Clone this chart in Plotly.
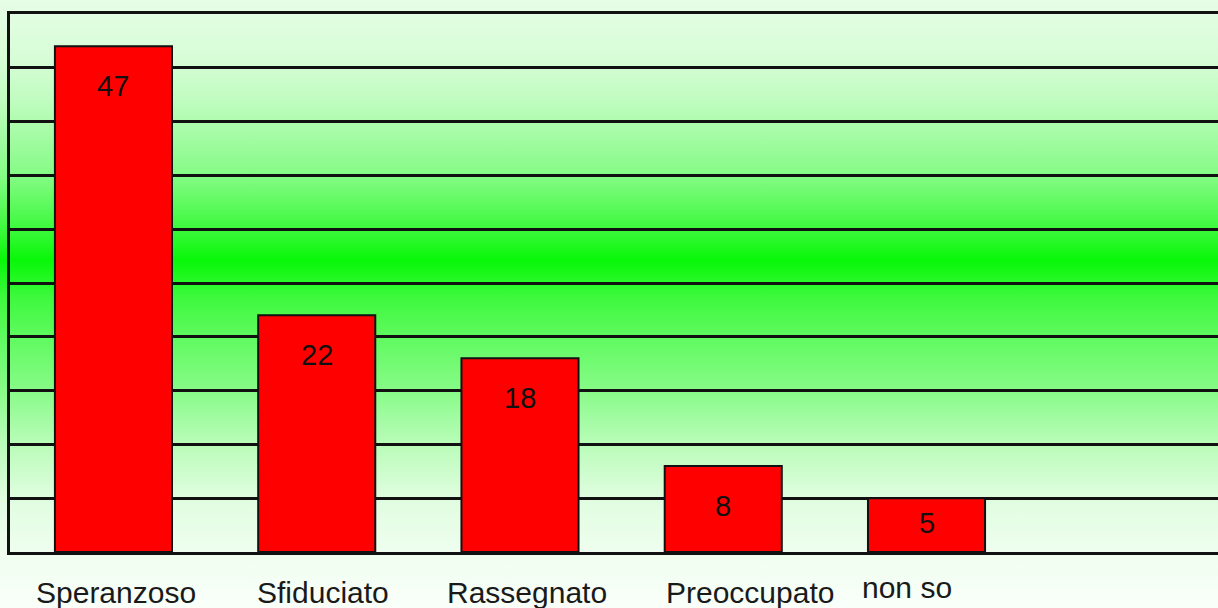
import base64
import plotly.graph_objects as go

# Survey answers and counts
categories = ["Speranzoso", "Sfiduciato", "Rassegnato", "Preoccupato", "non so"]
values = [47, 22, 18, 8, 5]

W, H = 1218, 608
M_L, M_R, M_T, M_B = 10, 0, 14, 56
Y_MAX = 50

# Vertical green gradient used as the page background
stops = [
    (0.000, "#e6fde6"),
    (0.100, "#d6fdd6"),
    (0.165, "#c0fcc0"),
    (0.290, "#84fb84"),
    (0.375, "#3ef93e"),
    (0.428, "#08f708"),
    (0.490, "#3ef93e"),
    (0.560, "#62fa62"),
    (0.640, "#86fb86"),
    (0.720, "#b4fcb4"),
    (0.820, "#e0fde0"),
    (0.910, "#effeef"),
    (1.000, "#fafffa"),
]
stop_tags = "".join(f'<stop offset="{o}" stop-color="{c}"/>' for o, c in stops)
svg = (
    '<svg xmlns="http://www.w3.org/2000/svg" width="10" height="608" '
    'preserveAspectRatio="none" viewBox="0 0 10 608">'
    '<defs><linearGradient id="g" x1="0" y1="0" x2="0" y2="1">'
    f"{stop_tags}</linearGradient></defs>"
    '<rect x="0" y="0" width="10" height="608" fill="url(#g)"/></svg>'
)
bg_src = "data:image/svg+xml;base64," + base64.b64encode(svg.encode()).decode()

plot_w = W - M_L - M_R
plot_h = H - M_T - M_B

fig = go.Figure(
    go.Bar(
        x=categories,
        y=values,
        width=0.576,
        marker=dict(color="#ff0000", line=dict(color="#111111", width=2)),
        hoverinfo="x+y",
    )
)

FONT = "Liberation Sans, Arial, sans-serif"

# Value labels inside the bars, near the top
px_per_unit = plot_h / Y_MAX
for cat, v in zip(categories, values):
    offset = min(40, v * px_per_unit * 0.46)
    fig.add_annotation(
        x=cat, y=v, xref="x", yref="y",
        text=str(v), showarrow=False,
        yanchor="middle", yshift=-offset,
        font=dict(family=FONT, size=29, color="#111111"),
    )

# Category labels below the axis
label_xshift = [3, 6, 7, 27, -20]
label_yshift = [-40, -40, -40, -40, -35]
for cat, dx, dy in zip(categories, label_xshift, label_yshift):
    fig.add_annotation(
        x=cat, y=0, xref="x", yref="y",
        text=cat, showarrow=False,
        yanchor="middle", xshift=dx, yshift=dy,
        font=dict(family=FONT, size=30, color="#1a1a1a"),
    )

fig.add_layout_image(
    source=bg_src,
    xref="paper", yref="paper",
    x=-M_L / plot_w, y=1 + M_T / plot_h,
    sizex=W / plot_w, sizey=H / plot_h,
    xanchor="left", yanchor="top",
    sizing="stretch", layer="below",
)

fig.update_layout(
    width=W, height=H,
    margin=dict(l=M_L, r=M_R, t=M_T, b=M_B),
    paper_bgcolor="#ffffff",
    plot_bgcolor="rgba(0,0,0,0)",
    showlegend=False,
    xaxis=dict(
        range=[-0.509, 5.434],
        showticklabels=False, ticks="",
        showgrid=False, zeroline=False,
        showline=True, mirror=True, linecolor="#111111", linewidth=2.5,
        fixedrange=True,
    ),
    yaxis=dict(
        range=[0, Y_MAX], dtick=5,
        showticklabels=False, ticks="",
        showgrid=True, gridcolor="#111111", gridwidth=2.5,
        zeroline=False,
        showline=True, linecolor="#111111", linewidth=2.5,
        fixedrange=True,
    ),
)

fig.write_html("out.html", config={"displayModeBar": False})
